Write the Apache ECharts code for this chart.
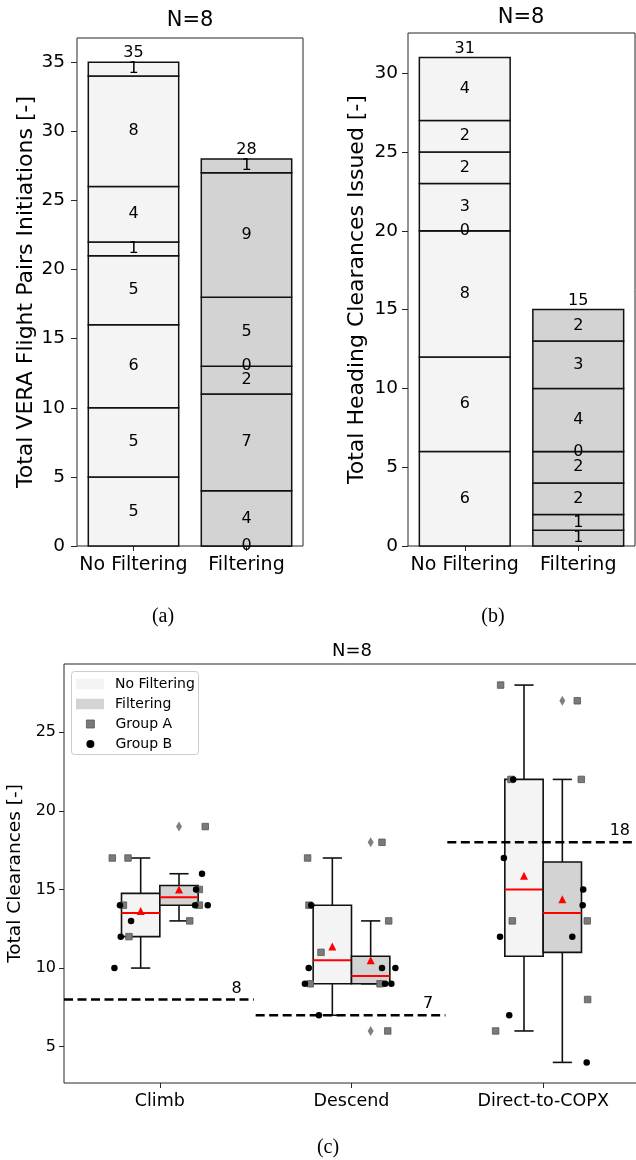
<!DOCTYPE html>
<html>
<head>
<meta charset="utf-8">
<script src="https://cdn.jsdelivr.net/npm/echarts@6/dist/echarts.min.js"></script>
<style>
  html, body { margin: 0; padding: 0; background: #fff; }
  #chart { width: 636px; height: 1160px; }
</style>
</head>
<body>
<div id="chart"></div>
<script>
// ---- data ----------------------------------------------------------------
const conditions = ['No Filtering', 'Filtering'];

// (a) VERA flight pair initiations, stacked per participant (bottom to top)
const veraNoFilter = [5, 5, 6, 5, 1, 4, 8, 1];
const veraFilter   = [0, 4, 7, 2, 0, 5, 9, 1];
const veraTicks    = [0, 5, 10, 15, 20, 25, 30, 35];

// (b) heading clearances issued, stacked per participant (bottom to top)
const headingNoFilter = [6, 6, 8, 0, 3, 2, 2, 4];
const headingFilter   = [1, 1, 2, 2, 0, 4, 3, 2];
const headingTicks    = [0, 5, 10, 15, 20, 25, 30];

// (c) total clearances per participant, by clearance type
const tasks = ['Climb', 'Descend', 'Direct-to-COPX'];
const groupANoFilter = [[17, 17, 14, 12], [17, 14, 11, 9], [28, 22, 13, 6]];
const groupBNoFilter = [[14, 13, 12, 10], [14, 10, 9, 7], [22, 17, 12, 7]];
const groupAFilter   = [[19, 15, 14, 13], [18, 13, 9, 6], [27, 22, 13, 8]];
const groupBFilter   = [[16, 15, 14, 14], [10, 10, 9, 9], [15, 14, 12, 4]];
// horizontal strip offsets of the individual points (category units)
const jitterANoFilter = [[-0.248, -0.166, -0.19, -0.161], [-0.229, -0.222, -0.159, -0.215], [-0.222, -0.168, -0.161, -0.248]];
const jitterBNoFilter = [[-0.208, -0.150, -0.204, -0.237], [-0.21, -0.223, -0.243, -0.17], [-0.156, -0.205, -0.225, -0.177]];
const jitterAFilter   = [[0.237, 0.206, 0.206, 0.156], [0.159, 0.194, 0.149, 0.189], [0.178, 0.199, 0.230, 0.232]];
const jitterBFilter   = [[0.220, 0.189, 0.184, 0.250], [0.159, 0.229, 0.175, 0.208], [0.209, 0.206, 0.152, 0.227]];
const thresholds = [8, 7, 18];
const totalTicks = [5, 10, 15, 20, 25];

// ---- styling ---------------------------------------------------------------
const FONT = 'DejaVu Sans';
const FILL_NF = '#f4f4f4';
const FILL_F = '#d3d3d3';
const INK = '#111';
const FRAME = '#262626';
const SQUARE = 'path://M0,0L1,0L1,1L0,1Z';

// ---- helpers ---------------------------------------------------------------
function stackItems(nf, f) {
  const items = [];
  [nf, f].forEach((segs, c) => {
    let cum = 0;
    segs.forEach(v => { items.push([c, cum, v]); cum += v; });
  });
  return items;
}
function totals(nf, f) {
  return [nf, f].map((segs, c) => [c, segs.reduce((a, b) => a + b, 0)]);
}
function renderStack(params, api) {
  const c = api.value(0), s = api.value(1), v = api.value(2);
  const p0 = api.coord([c, s]);
  const p1 = api.coord([c, s + v]);
  const bw = api.size([1, 0])[0] * 0.8;
  return {
    type: 'group',
    children: [
      { type: 'rect', z2: 1,
        shape: { x: p0[0] - bw / 2, y: p1[1], width: bw, height: p0[1] - p1[1] },
        style: { fill: c === 0 ? FILL_NF : FILL_F, stroke: INK, lineWidth: 1.5 } },
      { type: 'text', z2: 10,
        style: { text: String(v), x: p0[0], y: (p0[1] + p1[1]) / 2, align: 'center',
                 verticalAlign: 'middle', font: '16px "' + FONT + '"', fill: '#000' } }
    ]
  };
}
function renderTotal(params, api) {
  const p = api.coord([api.value(0), api.value(1)]);
  return { type: 'text', style: { text: String(api.value(1)), x: p[0], y: p[1] - 1,
           align: 'center', verticalAlign: 'bottom', font: '16px "' + FONT + '"', fill: '#000' } };
}
function quantile(sorted, p) {
  const idx = (sorted.length - 1) * p;
  const lo = Math.floor(idx), hi = Math.ceil(idx);
  return sorted[lo] + (sorted[hi] - sorted[lo]) * (idx - lo);
}
function boxStats(vals) {
  const s = vals.slice().sort((a, b) => a - b);
  const q1 = quantile(s, 0.25), med = quantile(s, 0.5), q3 = quantile(s, 0.75);
  const iqr = q3 - q1, loF = q1 - 1.5 * iqr, hiF = q3 + 1.5 * iqr;
  const inl = s.filter(v => v >= loF && v <= hiF);
  return {
    q1, med, q3,
    lo: Math.min.apply(null, inl), hi: Math.max.apply(null, inl),
    out: s.filter(v => v < loF || v > hiF),
    mean: s.reduce((a, b) => a + b, 0) / s.length
  };
}
const BOX_W = 0.2;
function renderBox(fill) {
  return function (params, api) {
    const x = api.value(0);
    const pLo = api.coord([x, api.value(1)]);
    const pQ1 = api.coord([x, api.value(2)]);
    const pMd = api.coord([x, api.value(3)]);
    const pQ3 = api.coord([x, api.value(4)]);
    const pHi = api.coord([x, api.value(5)]);
    const w = api.size([BOX_W, 0])[0];
    const cx = pLo[0], cap = w / 4;
    const ls = { stroke: INK, lineWidth: 1.6 };
    return {
      type: 'group',
      children: [
        { type: 'line', shape: { x1: cx, y1: pQ1[1], x2: cx, y2: pLo[1] }, style: ls },
        { type: 'line', shape: { x1: cx, y1: pQ3[1], x2: cx, y2: pHi[1] }, style: ls },
        { type: 'line', shape: { x1: cx - cap, y1: pLo[1], x2: cx + cap, y2: pLo[1] }, style: ls },
        { type: 'line', shape: { x1: cx - cap, y1: pHi[1], x2: cx + cap, y2: pHi[1] }, style: ls },
        { type: 'rect', shape: { x: cx - w / 2, y: pQ3[1], width: w, height: pQ1[1] - pQ3[1] },
          style: { fill: fill, stroke: INK, lineWidth: 1.6 } },
        { type: 'line', shape: { x1: cx - w / 2, y1: pMd[1], x2: cx + w / 2, y2: pMd[1] },
          style: { stroke: '#ff0000', lineWidth: 2 } }
      ]
    };
  };
}
function renderThreshold(params, api) {
  const i = api.value(0), t = api.value(1);
  const a = api.coord([i - 0.5, t]);
  const b = api.coord([i + 0.49, t]);
  const l = api.coord([i + 0.4, t]);
  return {
    type: 'group',
    children: [
      { type: 'line', shape: { x1: a[0], y1: a[1], x2: b[0], y2: b[1] },
        style: { stroke: '#000', lineWidth: 2.4, lineDash: [9, 4.5] } },
      { type: 'text', style: { text: String(t), x: l[0], y: l[1] - 11, align: 'center',
        verticalAlign: 'middle', font: '16px "' + FONT + '"', fill: '#000' } }
    ]
  };
}

// ---- derived series data for (c) --------------------------------------------
const boxNF = [], boxF = [], means = [], fliers = [];
const pointsA = [], pointsB = [];
tasks.forEach((_, t) => {
  [[groupANoFilter, groupBNoFilter, -0.1, boxNF], [groupAFilter, groupBFilter, 0.1, boxF]]
    .forEach(([ga, gb, off, target]) => {
      const st = boxStats(ga[t].concat(gb[t]));
      const x = t + off;
      target.push([x, st.lo, st.q1, st.med, st.q3, st.hi]);
      means.push([x, st.mean]);
      st.out.forEach(v => fliers.push([x, v]));
    });
  groupANoFilter[t].forEach((v, k) => pointsA.push([t + jitterANoFilter[t][k], v]));
  groupAFilter[t].forEach((v, k) => pointsA.push([t + jitterAFilter[t][k], v]));
  groupBNoFilter[t].forEach((v, k) => pointsB.push([t + jitterBNoFilter[t][k], v]));
  groupBFilter[t].forEach((v, k) => pointsB.push([t + jitterBFilter[t][k], v]));
});

// ---- axes ------------------------------------------------------------------
function catAxis(grid, data, fontSize, margin) {
  return {
    gridIndex: grid, type: 'category', data: data,
    axisLine: { show: false, onZero: false },
    axisTick: { show: true, alignWithLabel: true, length: 5, lineStyle: { color: FRAME, width: 1 } },
    axisLabel: { interval: 0, color: '#000', fontSize: fontSize, fontFamily: FONT, margin: margin },
    splitLine: { show: false }
  };
}
function valAxis(grid, min, max, ticks, name, opts) {
  return {
    gridIndex: grid, type: 'value', min: min, max: max,
    axisLine: { show: false, onZero: false }, splitLine: { show: false },
    axisTick: { show: true, length: opts.tick, customValues: ticks, lineStyle: { color: FRAME, width: 1 } },
    axisLabel: { customValues: ticks, color: '#000', fontSize: opts.label, fontFamily: FONT, margin: opts.margin },
    name: name, nameLocation: 'middle', nameGap: opts.gap,
    nameTextStyle: { color: '#000', fontSize: opts.name, fontFamily: FONT }
  };
}
const gridStyle = { show: true, borderColor: FRAME, borderWidth: 1, backgroundColor: 'transparent',
                    containLabel: false, outerBoundsMode: 'none' };

const option = {
  animation: false,
  backgroundColor: '#fff',
  textStyle: { fontFamily: FONT },
  grid: [
    Object.assign({ left: 77, top: 38, width: 226, height: 508 }, gridStyle),
    Object.assign({ left: 408, top: 33, width: 227, height: 513 }, gridStyle),
    Object.assign({ left: 64, top: 664, width: 575, height: 419 }, gridStyle)
  ],
  xAxis: [
    catAxis(0, conditions, 19, 10),
    catAxis(1, conditions, 19, 10),
    catAxis(2, tasks, 17.5, 9),
    { gridIndex: 2, type: 'value', min: -0.5, max: 2.5, show: false, axisLine: { onZero: false } }
  ],
  yAxis: [
    valAxis(0, 0, 36.75, veraTicks, 'Total VERA Flight Pairs Initiations [-]',
            { tick: 6, label: 18.5, margin: 12, gap: 39, name: 22 }),
    valAxis(1, 0, 32.55, headingTicks, 'Total Heading Clearances Issued [-]',
            { tick: 6, label: 18.5, margin: 10, gap: 40, name: 22 }),
    valAxis(2, 2.69, 29.34, totalTicks, 'Total Clearances [-]',
            { tick: 5, label: 16, margin: 8, gap: 29, name: 18.5 })
  ],
  legend: [
    { orient: 'vertical', left: 76, top: 677, padding: 0, itemGap: 6, itemWidth: 28, itemHeight: 10.5,
      symbolKeepAspect: false, selectedMode: false, z: 8,
      textStyle: { fontSize: 14, color: '#000', fontFamily: FONT, padding: [0, 0, 0, 6] },
      data: [
        { name: 'No Filtering', icon: 'rect', itemStyle: { color: FILL_NF, borderWidth: 0 } },
        { name: 'Filtering', icon: 'rect', itemStyle: { color: FILL_F, borderWidth: 0 } }
      ] },
    { orient: 'vertical', left: 86, top: 717, padding: 0, itemGap: 6, itemWidth: 8, itemHeight: 8,
      symbolKeepAspect: true, selectedMode: false, z: 8,
      textStyle: { fontSize: 14, color: '#000', fontFamily: FONT, padding: [0, 0, 0, 16] },
      data: [
        { name: 'Group A', icon: SQUARE, itemStyle: { color: '#7a7a7a', borderColor: '#555', borderWidth: 0.8 } },
        { name: 'Group B', icon: 'circle', itemStyle: { color: '#000', borderWidth: 0 } }
      ] }
  ],
  graphic: [
    { type: 'text', x: 190, y: 21, z: 10, style: { text: 'N=8', align: 'center', verticalAlign: 'middle',
      font: '21px "' + FONT + '"', fill: '#000' } },
    { type: 'text', x: 521, y: 18, z: 10, style: { text: 'N=8', align: 'center', verticalAlign: 'middle',
      font: '21px "' + FONT + '"', fill: '#000' } },
    { type: 'text', x: 352, y: 651, z: 10, style: { text: 'N=8', align: 'center', verticalAlign: 'middle',
      font: '18px "' + FONT + '"', fill: '#000' } },
    { type: 'text', x: 163, y: 617, z: 10, style: { text: '(a)', align: 'center', verticalAlign: 'middle',
      font: '20px "Liberation Serif"', fill: '#000' } },
    { type: 'text', x: 493, y: 617, z: 10, style: { text: '(b)', align: 'center', verticalAlign: 'middle',
      font: '20px "Liberation Serif"', fill: '#000' } },
    { type: 'text', x: 328, y: 1148, z: 10, style: { text: '(c)', align: 'center', verticalAlign: 'middle',
      font: '20px "Liberation Serif"', fill: '#000' } },
    { type: 'rect', z: 7, shape: { x: 71.5, y: 671.5, width: 127, height: 83, r: 3 },
      style: { fill: 'rgba(255,255,255,0.8)', stroke: '#cccccc', lineWidth: 1 } }
  ],
  series: [
    { type: 'custom', xAxisIndex: 0, yAxisIndex: 0, renderItem: renderStack,
      encode: { x: 0, y: [1, 2] }, data: stackItems(veraNoFilter, veraFilter), z: 2 },
    { type: 'custom', xAxisIndex: 0, yAxisIndex: 0, renderItem: renderTotal,
      encode: { x: 0, y: 1 }, data: totals(veraNoFilter, veraFilter), z: 3 },
    { type: 'custom', xAxisIndex: 1, yAxisIndex: 1, renderItem: renderStack,
      encode: { x: 0, y: [1, 2] }, data: stackItems(headingNoFilter, headingFilter), z: 2 },
    { type: 'custom', xAxisIndex: 1, yAxisIndex: 1, renderItem: renderTotal,
      encode: { x: 0, y: 1 }, data: totals(headingNoFilter, headingFilter), z: 3 },

    { name: 'No Filtering', type: 'custom', xAxisIndex: 3, yAxisIndex: 2, renderItem: renderBox(FILL_NF),
      itemStyle: { color: FILL_NF }, encode: { x: 0, y: [1, 2, 3, 4, 5] }, data: boxNF, z: 2 },
    { name: 'Filtering', type: 'custom', xAxisIndex: 3, yAxisIndex: 2, renderItem: renderBox(FILL_F),
      itemStyle: { color: FILL_F }, encode: { x: 0, y: [1, 2, 3, 4, 5] }, data: boxF, z: 2 },
    { type: 'custom', xAxisIndex: 3, yAxisIndex: 2, renderItem: renderThreshold,
      encode: { x: 0, y: 1 }, data: thresholds.map((t, i) => [i, t]), z: 3 },
    { type: 'scatter', xAxisIndex: 3, yAxisIndex: 2, data: fliers, symbol: 'diamond',
      symbolSize: [6, 10], itemStyle: { color: '#808080', opacity: 1 }, z: 4, silent: true },
    { name: 'Group A', type: 'scatter', xAxisIndex: 3, yAxisIndex: 2, data: pointsA, symbol: 'rect',
      symbolSize: 6.5, itemStyle: { color: '#7a7a7a', borderColor: '#555', borderWidth: 0.8, opacity: 1 }, z: 5, silent: true },
    { name: 'Group B', type: 'scatter', xAxisIndex: 3, yAxisIndex: 2, data: pointsB, symbol: 'circle',
      symbolSize: 6.5, itemStyle: { color: '#000', opacity: 1 }, z: 6, silent: true },
    { type: 'scatter', xAxisIndex: 3, yAxisIndex: 2, data: means, symbol: 'triangle',
      symbolSize: 8, itemStyle: { color: '#ff0000', opacity: 1 }, z: 6, silent: true }
  ]
};

const chart = echarts.init(document.getElementById('chart'), null, { renderer: 'canvas' });
chart.setOption(option);
</script>
</body>
</html>
